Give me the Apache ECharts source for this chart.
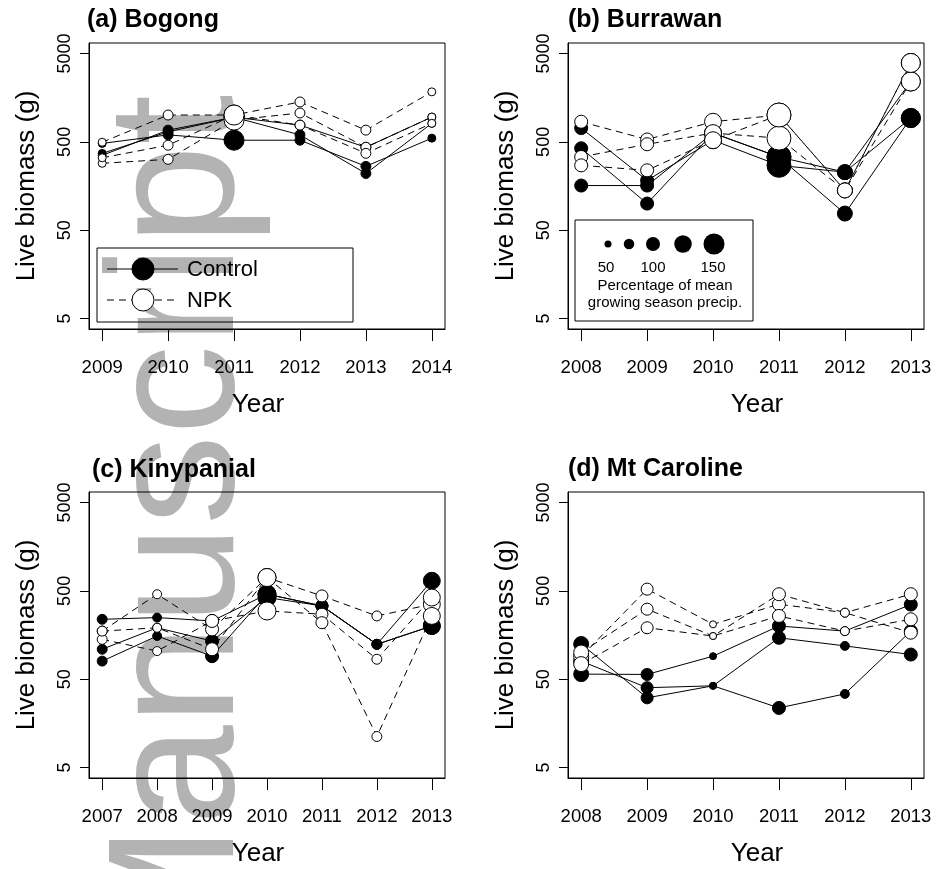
<!DOCTYPE html>
<html><head><meta charset="utf-8">
<script src="https://cdn.jsdelivr.net/npm/echarts@6/dist/echarts.min.js"></script>
<style>html,body{margin:0;padding:0;background:#fff}#c{width:937px;height:869px}</style>
</head><body><div id="c"></div>
<script>
// ---- data ----
const yearsBogong = [2009, 2010, 2011, 2012, 2013, 2014];
const precipBogong = [57, 71, 143, 71, 71, 57];
const controlBogong = [
  [352, 679, 950, 774, 434, 955],
  [480, 600, 522, 522, 264, 551],
  [370, 650, 950, 600, 219, 811]
];
const npkBogong = [
  [495, 1007, 1007, 1416, 679, 1843],
  [286, 317, 883, 1062, 434, 955],
  [330, 458, 1007, 774, 371, 811]
];

const yearsBurrawan = [2008, 2009, 2010, 2011, 2012, 2013];
const precipBurrawan = [93, 93, 121, 171, 107, 136];
const controlBurrawan = [
  [160, 160, 629, 337, 227, 931],
  [716, 183, 522, 271, 227, 2414],
  [423, 100, 629, 337, 77, 931]
];
const npkBurrawan = [
  [845, 532, 845, 1007, 141, 3916],
  [337, 470, 629, 551, 141, 2414],
  [271, 238, 522, 1007, 141, 3916]
];

const yearsKinypanial = [2007, 2008, 2009, 2010, 2011, 2012, 2013];
const precipKinypanial = [71, 64, 93, 129, 86, 71, 121];
const controlKinypanial = [
  [238, 249, 228, 458, 338, 124, 650],
  [109, 191, 135, 420, 338, 124, 200],
  [80, 154, 91, 458, 338, 124, 200]
];
const npkKinypanial = [
  [175, 458, 183, 708, 438, 260, 353],
  [141, 104, 228, 296, 272, 84, 420],
  [175, 191, 109, 708, 218, 11.2, 260]
];

const yearsMtCaroline = [2008, 2009, 2010, 2011, 2012, 2013];
const precipMtCaroline = [107, 86, 50, 93, 64, 93];
const controlMtCaroline = [
  [57, 56.5, 91, 200, 175, 350],
  [80, 40, 42, 23.6, 34, 175],
  [125, 30.7, 42, 147, 119, 95]
];
const npkMtCaroline = [
  [90, 523, 209, 353, 283, 458],
  [100, 310, 154, 458, 283, 168],
  [74, 191, 154, 260, 175, 238]
];

const panelTitles = ['(a) Bogong', '(b) Burrawan', '(c) Kinypanial', '(d) Mt Caroline'];
const yTickValues = [5, 50, 500, 5000];
const legendPrecipValues = [50, 75, 100, 125, 150];
const legendPrecipLabels = ['50', '100', '150'];
const legendTreatments = ['Control', 'NPK'];
const legendPrecipTitle = ['Percentage of mean', 'growing season precip.'];
const watermarkText = 'Manuscript';

// ---- layout / styles ----
const FONT = '"Liberation Sans", Arial, sans-serif';
const panels = [
  {years: yearsBogong, precip: precipBogong, control: controlBogong, npk: npkBogong},
  {years: yearsBurrawan, precip: precipBurrawan, control: controlBurrawan, npk: npkBurrawan},
  {years: yearsKinypanial, precip: precipKinypanial, control: controlKinypanial, npk: npkKinypanial},
  {years: yearsMtCaroline, precip: precipMtCaroline, control: controlMtCaroline, npk: npkMtCaroline}
];
const layout = [
  {left: 89, top: 43, titleLeft: 87, titleTop: 8, yearPad: [0, 18, 0, 0]},
  {left: 568, top: 43, titleLeft: 568, titleTop: 8, yearPad: [0, 0, 0, 22]},
  {left: 89, top: 492, titleLeft: 92, titleTop: 458, yearPad: [0, 18, 0, 0]},
  {left: 568, top: 492, titleLeft: 568, titleTop: 457, yearPad: [0, 0, 0, 22]}
];
const sizeFor = p => p * 0.14;
const yMin = Math.pow(10, Math.log10(5) - 0.12);
const yMax = Math.pow(10, Math.log10(5000) + 0.12);

const grids = [], xAxes = [], yAxes = [], series = [], titles = [];
panels.forEach((pn, i) => {
  const L = layout[i];
  grids.push({left: L.left, top: L.top, width: 356, height: 286, show: true,
    borderColor: '#000', borderWidth: 1, backgroundColor: 'transparent'});
  const span = pn.years[pn.years.length - 1] - pn.years[0];
  xAxes.push({type: 'value', gridIndex: i,
    min: pn.years[0] - 0.04 * span, max: pn.years[pn.years.length - 1] + 0.04 * span,
    axisLine: {show: true, lineStyle: {color: '#000', width: 1}},
    axisTick: {show: true, customValues: pn.years, length: 12, lineStyle: {color: '#000', width: 1}},
    axisLabel: {customValues: pn.years, formatter: v => String(v), margin: 29,
      fontSize: 18.5, color: '#000', fontFamily: FONT},
    splitLine: {show: false},
    name: 'Year', nameLocation: 'middle', nameGap: 63,
    nameTextStyle: {fontSize: 26, color: '#000', fontFamily: FONT, padding: L.yearPad}
  });
  yAxes.push({type: 'log', logBase: 10, gridIndex: i, min: yMin, max: yMax,
    axisLine: {show: true, lineStyle: {color: '#000', width: 1}},
    axisTick: {show: true, customValues: yTickValues, length: 9, lineStyle: {color: '#000', width: 1}},
    axisLabel: {customValues: yTickValues, rotate: 90, margin: 15, fontSize: 18, color: '#000',
      fontFamily: FONT, formatter: v => String(Math.round(v))},
    splitLine: {show: false}, minorTick: {show: false},
    name: 'Live biomass (g)', nameLocation: 'middle', nameGap: 49, nameRotate: 90,
    nameTextStyle: {fontSize: 26, color: '#000', fontFamily: FONT}
  });
  titles.push({text: panelTitles[i], left: L.titleLeft, top: L.titleTop, padding: 0,
    textStyle: {fontSize: 25, fontWeight: 'bold', color: '#000', fontFamily: FONT}});
  const mk = (vals, isCtrl) => ({
    type: 'line', xAxisIndex: i, yAxisIndex: i, silent: true,
    name: isCtrl ? legendTreatments[0] : legendTreatments[1],
    data: pn.years.map((y, k) => [y, vals[k]]),
    symbol: 'circle',
    symbolSize: (v, p) => sizeFor(pn.precip[p.dataIndex]),
    showAllSymbol: true,
    lineStyle: {color: '#000', width: 1, type: isCtrl ? 'solid' : [7, 5]},
    itemStyle: isCtrl ? {color: '#000', borderColor: '#000', borderWidth: 1}
                      : {color: '#fff', borderColor: '#000', borderWidth: 1},
    emphasis: {disabled: true},
    z: isCtrl ? 2 : 3
  });
  pn.control.forEach(v => series.push(mk(v, true)));
  pn.npk.forEach(v => series.push(mk(v, false)));
});

function txt(x, y, text, size, align) {
  return {type: 'text', x: x, y: y, z: 20, silent: true,
    style: {text: text, font: size + 'px ' + FONT, fill: '#000',
      align: align, textAlign: align, verticalAlign: 'middle', textVerticalAlign: 'middle'}};
}
const graphic = [];
// watermark (behind everything)
graphic.push({type: 'text', x: 183, y: 535, rotation: Math.PI / 2, z: -10, zlevel: 0, silent: true,
  style: {text: watermarkText, font: '180px ' + FONT, fill: '#b3b3b3',
    align: 'center', textAlign: 'center', verticalAlign: 'middle', textVerticalAlign: 'middle'}});
// legend (a)
graphic.push({type: 'rect', z: 19, silent: true, shape: {x: 97, y: 248, width: 256, height: 74},
  style: {fill: 'none', stroke: '#000', lineWidth: 1}});
graphic.push({type: 'line', z: 20, silent: true, shape: {x1: 107, y1: 269, x2: 178, y2: 269},
  style: {stroke: '#000', lineWidth: 1}});
graphic.push({type: 'circle', z: 21, silent: true, shape: {cx: 143, cy: 269, r: 11},
  style: {fill: '#000', stroke: '#000', lineWidth: 1}});
graphic.push(txt(187, 270, legendTreatments[0], 22, 'left'));
graphic.push({type: 'line', z: 20, silent: true, shape: {x1: 107, y1: 300, x2: 178, y2: 300},
  style: {stroke: '#000', lineWidth: 1, lineDash: [7, 5]}});
graphic.push({type: 'circle', z: 21, silent: true, shape: {cx: 143, cy: 300, r: 11},
  style: {fill: '#fff', stroke: '#000', lineWidth: 1}});
graphic.push(txt(187, 301, legendTreatments[1], 22, 'left'));
// legend (b)
graphic.push({type: 'rect', z: 19, silent: true, shape: {x: 575, y: 220, width: 178, height: 101},
  style: {fill: '#fff', stroke: '#000', lineWidth: 1}});
const legCx = [608, 629, 653, 683, 714];
legendPrecipValues.forEach((p, k) => {
  graphic.push({type: 'circle', z: 21, silent: true, shape: {cx: legCx[k], cy: 244, r: sizeFor(p) / 2},
    style: {fill: '#000'}});
});
const legLx = [606, 653, 713];
legendPrecipLabels.forEach((s, k) => graphic.push(txt(legLx[k], 268, s, 15, 'center')));
graphic.push(txt(665, 286, legendPrecipTitle[0], 15, 'center'));
graphic.push(txt(665, 303, legendPrecipTitle[1], 15, 'center'));

const chart = echarts.init(document.getElementById('c'), null, {renderer: 'canvas'});
chart.setOption({
  backgroundColor: '#fff', animation: false,
  textStyle: {fontFamily: FONT},
  title: titles, grid: grids, xAxis: xAxes, yAxis: yAxes, series: series, graphic: graphic
});
</script></body></html>
